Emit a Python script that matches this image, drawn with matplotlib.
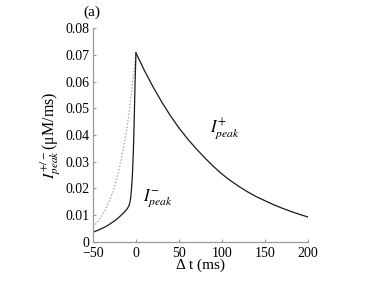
import numpy as np
import matplotlib
matplotlib.use('Agg')
import matplotlib.pyplot as plt
from matplotlib.ticker import FuncFormatter

plt.rcParams['font.family'] = ['Liberation Serif', 'DejaVu Serif']
plt.rcParams['mathtext.fontset'] = 'stix'

# Delta t < 0 : solid (I-peak) and dotted reference curve
t_neg = [-50, -45, -40, -35, -30, -25, -20, -15, -10, -8, -7, -6, -5, -4, -3, -2, -1, 0]
i_minus = [0.0036, 0.0042, 0.0049, 0.0057, 0.0067, 0.0078, 0.0091, 0.0106, 0.0124,
           0.0136, 0.0147, 0.0168, 0.0205, 0.0260, 0.0340, 0.0460, 0.0600, 0.0708]

t_dot = [-50, -45, -40, -35, -30, -25, -20, -15, -10, -5, -2, 0]
i_dot = [0.0056, 0.0073, 0.0095, 0.0124, 0.0160, 0.0205, 0.0265, 0.0345,
         0.0435, 0.0565, 0.0650, 0.0708]

# Delta t > 0 : I+peak
t_pos = [0, 10, 20, 30, 40, 50, 60, 70, 80, 90, 100, 110, 120, 130, 140, 150,
         160, 170, 180, 190, 200]
i_plus = [0.0708, 0.0641, 0.0580, 0.0524, 0.0473, 0.0427, 0.0386, 0.0349, 0.0315,
          0.0283, 0.0254, 0.0229, 0.0207, 0.0187, 0.0169, 0.0154, 0.0139, 0.0126,
          0.0114, 0.0103, 0.0093]

x_ticks = [-50, 0, 50, 100, 150, 200]
y_ticks = [0, 0.01, 0.02, 0.03, 0.04, 0.05, 0.06, 0.07, 0.08]

fig = plt.figure(figsize=(3.82, 2.86), dpi=100)
ax = fig.add_axes([0.2435, 0.1549, 0.562, 0.746])

ax.plot(t_dot, i_dot, color='0.6', linestyle=':', lw=0.9)
ax.plot(t_neg, i_minus, color='0.1', lw=0.9)
ax.plot(t_pos, i_plus, color='0.1', lw=0.9)

ax.set_xlim(-50, 200)
ax.set_ylim(0, 0.08)
ax.set_xticks(x_ticks)
ax.set_yticks(y_ticks)
ax.yaxis.set_major_formatter(FuncFormatter(lambda v, p: '0' if v == 0 else '%.2f' % v))

for s in ['top', 'right']:
    ax.spines[s].set_visible(False)
for s in ['left', 'bottom']:
    ax.spines[s].set_color('0.6')
    ax.spines[s].set_linewidth(0.9)
ax.tick_params(direction='in', length=2.5, width=0.8, color='0.6', labelsize=10)
ax.tick_params(axis='y', pad=2.5)
ax.tick_params(axis='x', pad=4)

ax.set_xlabel('Δ t (ms)', fontsize=11, labelpad=-1)
ax.set_ylabel(r'$I^{+/-}_{peak}$(μM/ms)', fontsize=11.5, labelpad=2)

ax.text(86, 0.042, r'$I^{+}_{peak}$', fontsize=12, ha='left', va='center')
ax.text(8, 0.0165, r'$I^{-}_{peak}$', fontsize=12, ha='left', va='center')
fig.text(0.24, 0.958, '(a)', fontsize=11, ha='center', va='center')

fig.savefig('out.png', dpi=100)
